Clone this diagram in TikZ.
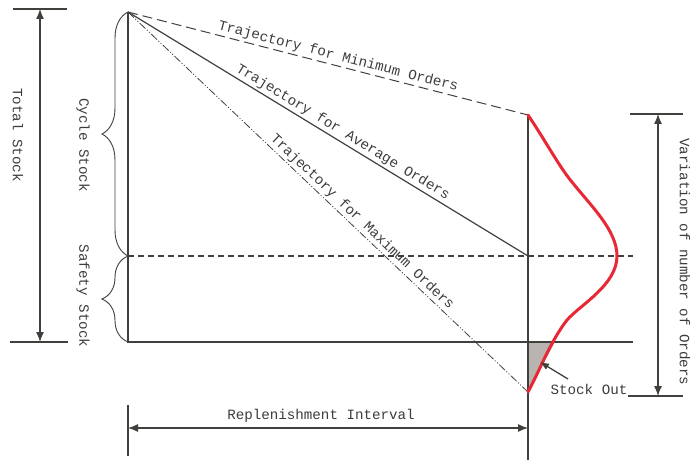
\documentclass[tikz,border=0pt]{standalone}
\usepackage{fontspec}
\setmonofont{Liberation Mono}
\usetikzlibrary{arrows.meta,decorations.pathreplacing}
\definecolor{ln}{RGB}{64,64,60}
\definecolor{txt}{RGB}{60,60,60}
\definecolor{redc}{RGB}{232,40,52}
\definecolor{fillg}{RGB}{185,180,176}
\begin{document}
\begin{tikzpicture}[x=1pt,y=-1pt,
  font=\ttfamily\fontsize{14.2}{16}\selectfont,
  every node/.style={text=txt},
  axis/.style={draw=ln,line width=1.3pt},
  dim/.style={draw=ln,line width=1.2pt,{Latex[length=10pt,width=8pt]}-{Latex[length=10pt,width=8pt]}},
  lbl/.style={sloped,above=1pt,inner sep=1pt},
  vlbl/.style={rotate=-90,inner sep=0pt},
  bracestyle/.style={ln,line width=0.9pt,decorate,decoration={brace,amplitude=26pt}}]
\useasboundingbox (0,0) rectangle (691,465);
% key points
\coordinate (apex) at (128,12);
\coordinate (origin) at (128,342);
\coordinate (minend) at (528,115);
\coordinate (avgend) at (528,256);
\coordinate (maxend) at (528,392);
% stock-out area
\fill[fillg] (528,342) -- (555,342) -- (maxend) -- cycle;
% axes
\draw[axis] (apex) -- (origin) -- (633,342);
\draw[axis] (minend) -- (528,460);
\draw[draw=ln,line width=1.5pt,dash pattern=on 6pt off 4pt] (128,256) -- (633,256);
% trajectories
\draw[ln,line width=1pt,dash pattern=on 10pt off 5pt] (apex) -- node[lbl,pos=0.52] {Trajectory for Minimum Orders} (minend);
\draw[ln,line width=1.2pt] (apex) -- node[lbl,pos=0.525] {Trajectory for Average Orders} (avgend);
\draw[ln,line width=0.8pt,dash pattern=on 8pt off 2pt on 1pt off 2pt on 1pt off 2pt] (apex) -- node[lbl,pos=0.57] {Trajectory for Maximum Orders} (maxend);
% red distribution
\draw[redc,line width=3pt,line cap=round,line join=round] (minend)
  .. controls (545,140) and (560,168) .. (572,182)
  .. controls (590,205) and (617,230) .. (617,256)
  .. controls (617,285) and (580,305) .. (567,320)
  .. controls (550,342) and (540,370) .. (maxend);
% stock out
\node (so) at (589,389) {Stock Out};
\draw[ln,line width=1.3pt,-{Latex[length=9pt,width=7pt]}] (568,379) -- (540,362);
% total stock
\draw[ln,line width=1.2pt] (13,9) -- (67,9);
\draw[ln,line width=1.2pt] (10,342) -- (68,342);
\draw[dim] (40,9) -- (40,342);
\node[vlbl] (ts) at (18,135) {Total Stock};
% braces
\draw[bracestyle] (128,256) -- (128,12);
\draw[bracestyle] (128,342) -- (128,256);
\node[vlbl] (cs) at (83,145) {Cycle Stock};
\node[vlbl] (ss) at (83,296) {Safety Stock};
% variation
\draw[ln,line width=1.2pt] (630,114) -- (683,114);
\draw[ln,line width=1.2pt] (628,396) -- (683,396);
\draw[dim] (658,114) -- (658,396);
\node[vlbl] (vo) at (685,262) {Variation of number of Orders};
% replenishment
\draw[ln,line width=1.2pt] (128,405) -- (128,456);
\draw[dim] (128,428) -- (528,428);
\node (ri) at (321,416) {Replenishment Interval};
\end{tikzpicture}
\end{document}
